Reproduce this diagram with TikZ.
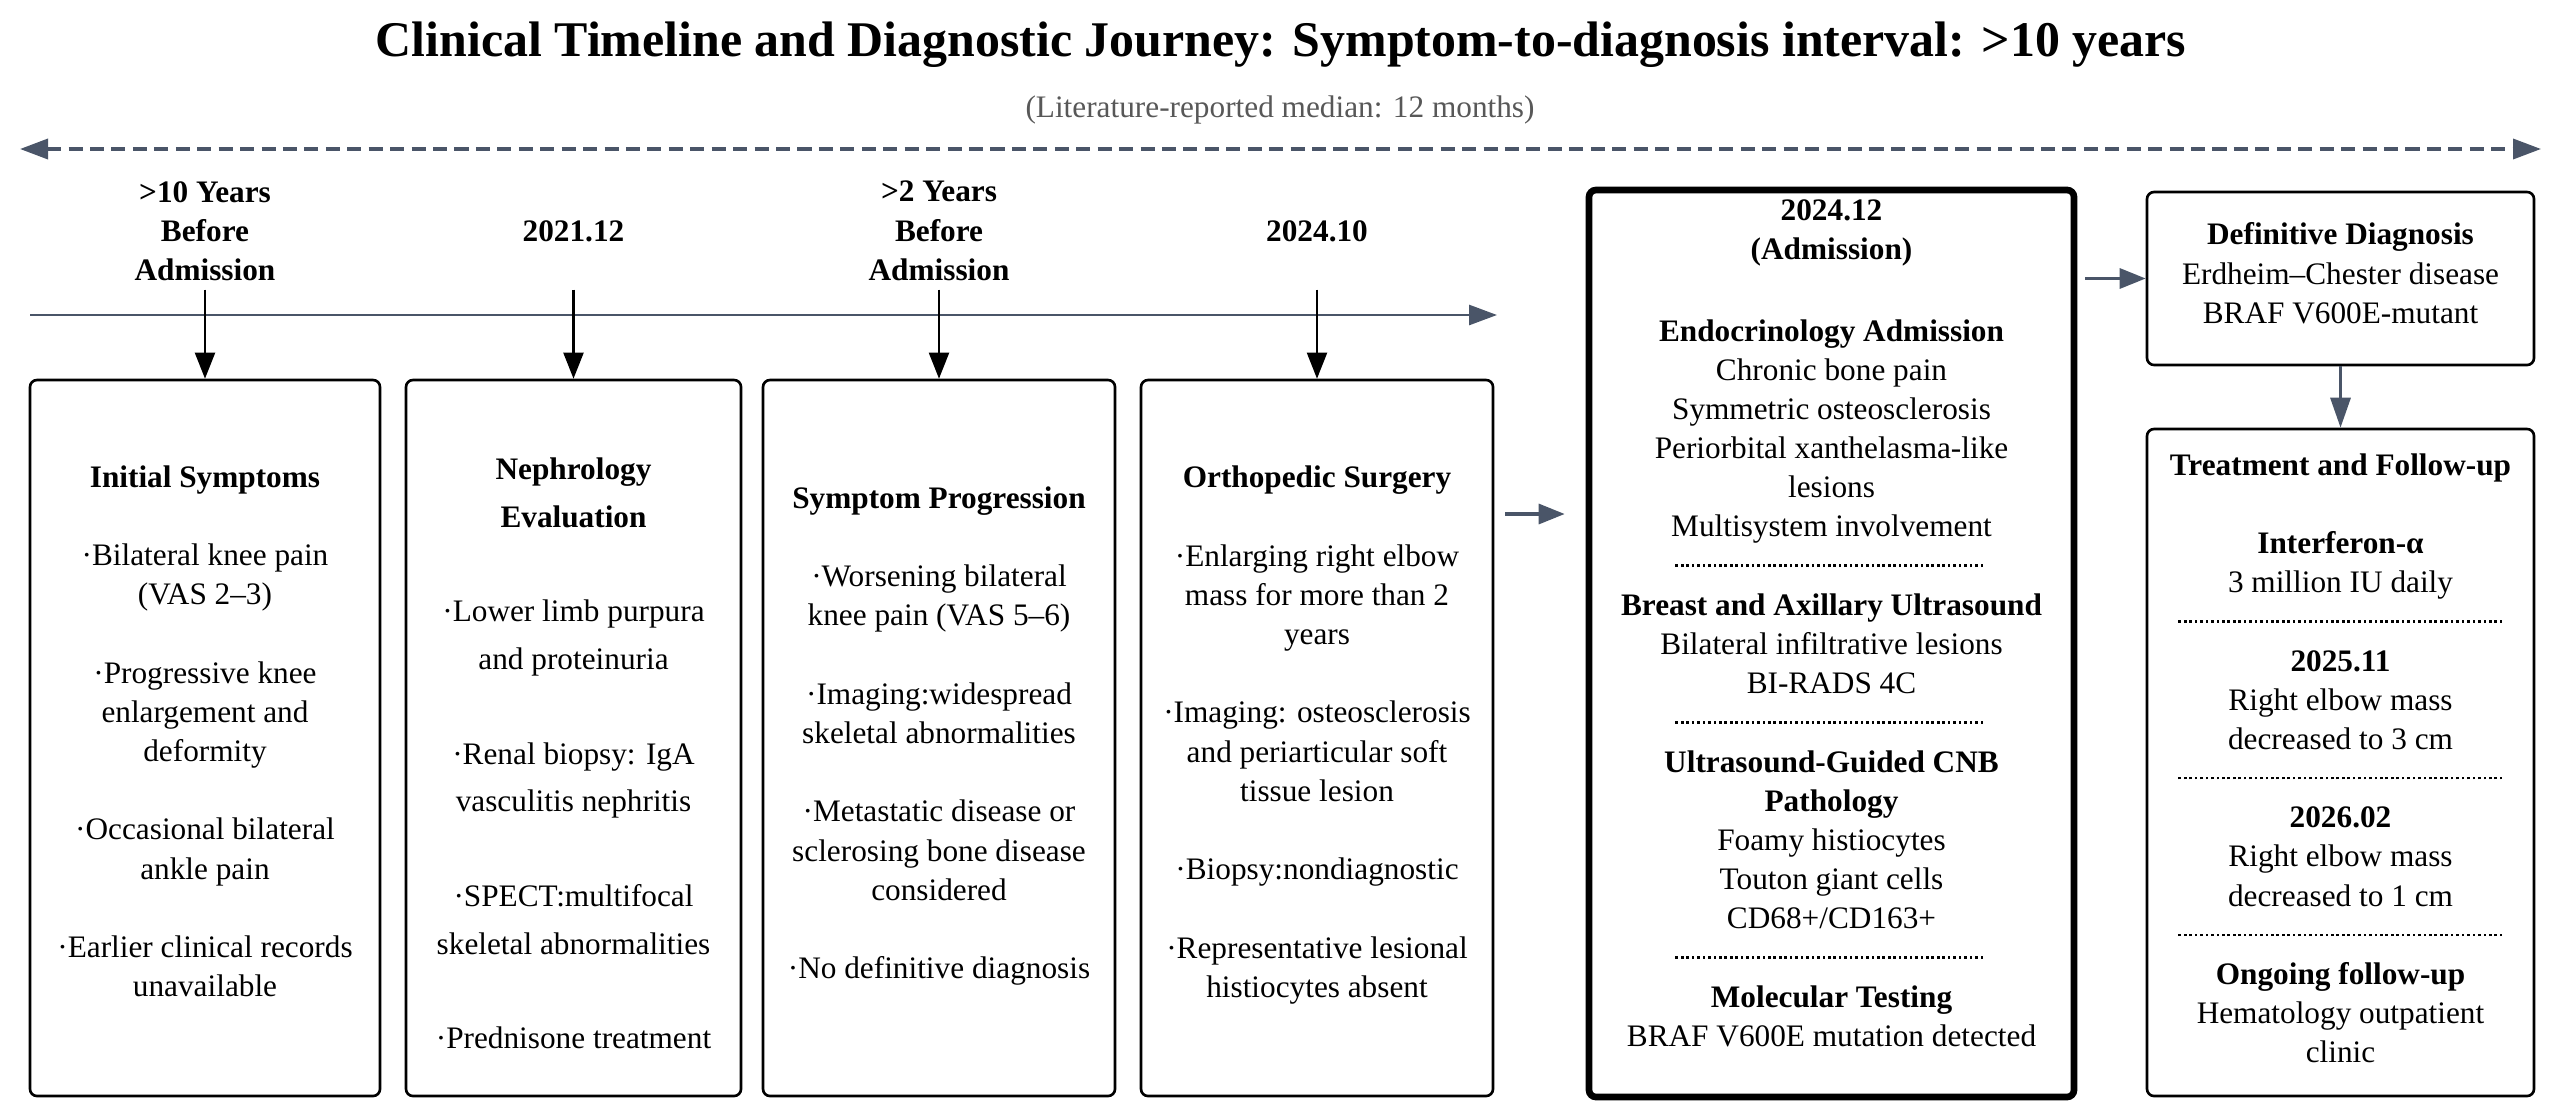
\documentclass[tikz,border=0pt]{standalone}
\usepackage{fontspec}
\setmainfont{Liberation Serif}
\usetikzlibrary{arrows.meta,positioning}

\definecolor{slate}{RGB}{74,85,104}
\definecolor{notegray}{RGB}{88,88,88}

\newcommand{\bodyfont}{\fontsize{8.9pt}{11.15pt}\selectfont}
\newcommand{\widefont}{\fontsize{8.9pt}{13.5pt}\selectfont}
\newcommand{\skipline}{\\[11.15pt]}
\newcommand{\sepdots}[1]{\makebox[#1]{\leaders\hbox to 1.55pt{\hss\rule[0.9pt]{0.75pt}{0.75pt}\hss}\hfill}}

\tikzset{
  card/.style={draw, line width=0.75pt, rounded corners=0.07cm, fill=white, minimum height=7.16cm, inner sep=0pt},
  cardtxt/.style={font=\bodyfont, align=center, inner sep=0pt, execute at begin node=\strut, execute at end node=\strut},
  when/.style={font=\bodyfont\bfseries, align=center, inner sep=0pt, minimum height=1.16cm},
  downarr/.style={line width=0.6pt, -{Triangle[length=0.26cm,width=0.2cm]}},
  flow/.style={slate, line width=0.9pt, -{Triangle[length=0.26cm,width=0.2cm]}},
}

\begin{document}
\begin{tikzpicture}
\fill[white] (0,0) rectangle (25.61,-11.17);
\useasboundingbox (0,0) rectangle (25.61,-11.17);

% heading
\node[font=\fontsize{14.2pt}{17pt}\selectfont\bfseries] (title) at (12.81,-0.45) {Clinical Timeline and Diagnostic Journey: Symptom-to-diagnosis interval: >10 years};
\node[font=\bodyfont, text=notegray] (subtitle) at (12.80,-1.10) {(Literature-reported median: 12 months)};

% whole interval
\coordinate (span0) at (0.20,-1.49);
\coordinate (span1) at (25.41,-1.49);
\draw[slate, line width=1pt, dash pattern=on 4pt off 2.1pt, {Triangle[length=0.28cm,width=0.2cm]}-{Triangle[length=0.28cm,width=0.2cm]}] (span0) -- (span1);

% timeline
\coordinate (tl0) at (0.30,-3.15);
\coordinate (tl1) at (14.97,-3.15);
\draw[slate, line width=0.8pt, -{Triangle[length=0.28cm,width=0.2cm]}] (tl0) -- (tl1);

% before admission
\node[card, minimum width=3.50cm] (init) at (2.05,-7.38) {};
\node[card, minimum width=3.35cm] (neph) at (5.735,-7.38) {};
\node[card, minimum width=3.52cm] (prog) at (9.39,-7.38) {};
\node[card, minimum width=3.52cm] (ortho) at (13.17,-7.38) {};

\node[when, above=0.89cm of init] (when1) {>10 Years\\Before\\Admission};
\node[when, above=0.89cm of neph] (when2) {2021.12};
\node[when, above=0.89cm of prog] (when3) {>2 Years\\Before\\Admission};
\node[when, above=0.89cm of ortho] (when4) {2024.10};

\draw[downarr] (when1.south) -- (init.north);
\draw[downarr] (when2.south) -- (neph.north);
\draw[downarr] (when3.south) -- (prog.north);
\draw[downarr] (when4.south) -- (ortho.north);

\node[cardtxt] (init-t) at (2.05,-7.37) {\textbf{Initial Symptoms}\skipline
·Bilateral knee pain\\(VAS 2–3)\skipline
·Progressive knee\\enlargement and\\deformity\skipline
·Occasional bilateral\\ankle pain\skipline
·Earlier clinical records\\unavailable};

\node[cardtxt, font=\widefont] (neph-t) at (5.735,-7.605) {\textbf{Nephrology}\\\textbf{Evaluation}\\[13.5pt]
·Lower limb purpura\\and proteinuria\\[13.5pt]
·Renal biopsy: IgA\\vasculitis nephritis\\[13.5pt]
·SPECT:multifocal\\skeletal abnormalities\\[13.5pt]
·Prednisone treatment};

\node[cardtxt] (prog-t) at (9.39,-7.385) {\textbf{Symptom Progression}\skipline
·Worsening bilateral\\knee pain (VAS 5–6)\skipline
·Imaging:widespread\\skeletal abnormalities\skipline
·Metastatic disease or\\sclerosing bone disease\\considered\skipline
·No definitive diagnosis};

\node[cardtxt] (ortho-t) at (13.17,-7.375) {\textbf{Orthopedic Surgery}\skipline
·Enlarging right elbow\\mass for more than 2\\years\skipline
·Imaging: osteosclerosis\\and periarticular soft\\tissue lesion\skipline
·Biopsy:nondiagnostic\skipline
·Representative lesional\\histiocytes absent};

% admission
\node[card, line width=1.9pt, minimum width=4.85cm, minimum height=9.07cm] (admit) at (18.315,-6.435) {};
\node[cardtxt] (admit-t) at (18.315,-6.29) {\textbf{2024.12}\\\textbf{(Admission)}\\[0.42cm]
\textbf{Endocrinology Admission}\\Chronic bone pain\\Symmetric osteosclerosis\\Periorbital xanthelasma-like\\lesions\\Multisystem involvement\\[-0.06cm]
\sepdots{3.15cm}\\[0.06cm]
\textbf{Breast and Axillary Ultrasound}\\Bilateral infiltrative lesions\\BI-RADS 4C\\[-0.06cm]
\sepdots{3.15cm}\\[0.06cm]
\textbf{Ultrasound-Guided CNB}\\\textbf{Pathology}\\Foamy histiocytes\\Touton giant cells\\CD68+/CD163+\\[-0.06cm]
\sepdots{3.15cm}\\[0.06cm]
\textbf{Molecular Testing}\\BRAF V600E mutation detected};

\coordinate (a45) at ([yshift=2.24cm]ortho.east);
\draw[flow, shorten <=0.11cm, shorten >=0.21cm] (a45) -- (a45 -| admit.west);

% diagnosis and treatment
\node[card, minimum width=3.87cm, minimum height=1.73cm] (dx) at (23.405,-2.785) {};
\node[cardtxt] (dx-t) at (23.405,-2.79) {\textbf{Definitive Diagnosis}\\Erdheim–Chester disease\\BRAF V600E-mutant};

\node[card, minimum width=3.87cm, minimum height=6.67cm] (treat) at (23.405,-7.625) {};
\node[cardtxt] (treat-t) at (23.405,-7.64) {\textbf{Treatment and Follow-up}\skipline
\textbf{Interferon-α}\\3 million IU daily\\[-0.06cm]
\sepdots{3.27cm}\\[0.06cm]
\textbf{2025.11}\\Right elbow mass\\decreased to 3 cm\\[-0.06cm]
\sepdots{3.27cm}\\[0.06cm]
\textbf{2026.02}\\Right elbow mass\\decreased to 1 cm\\[-0.06cm]
\sepdots{3.27cm}\\[0.06cm]
\textbf{Ongoing follow-up}\\Hematology outpatient\\clinic};

\draw[flow, shorten <=0.08cm] (admit.east |- dx.west) -- (dx.west);
\draw[flow, -{Triangle[length=0.3cm,width=0.2cm]}] (dx.south) -- (treat.north);
\end{tikzpicture}
\end{document}
